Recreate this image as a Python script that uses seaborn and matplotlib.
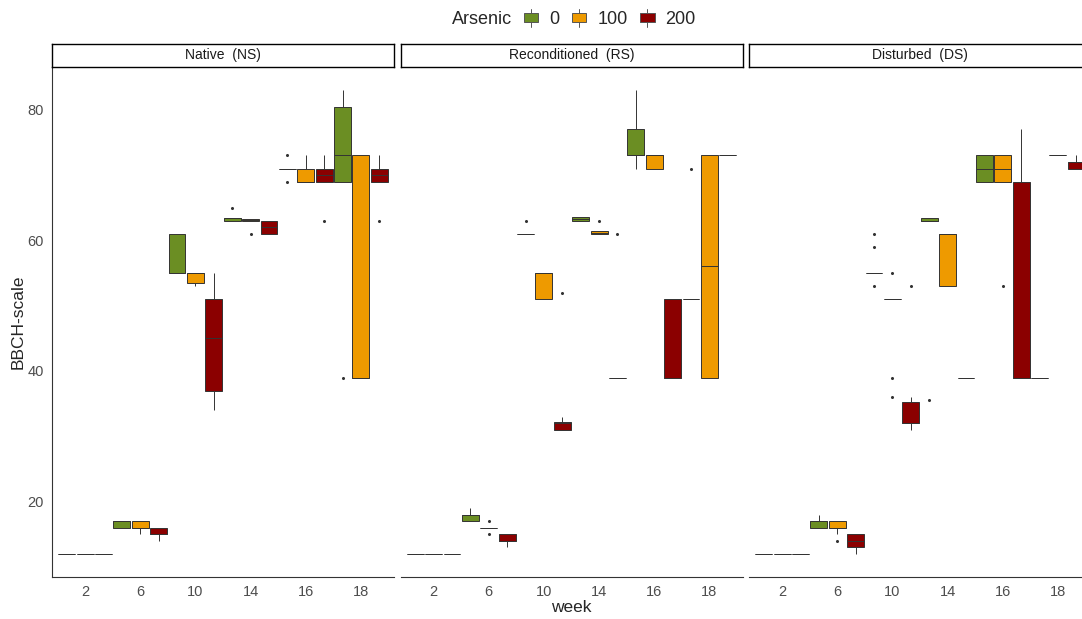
import matplotlib.pyplot as plt
import pandas as pd
import seaborn as sns
from matplotlib.legend_handler import HandlerBase
from matplotlib.lines import Line2D
from matplotlib.patches import Patch, Rectangle

weeks = ["2", "6", "10", "14", "16", "18"]
arsenic = ["0", "100", "200"]
sites = ["Native  (NS)", "Reconditioned  (RS)", "Disturbed  (DS)"]
colors = ["#6B8E23", "#EE9A00", "#8B0000"]

# BBCH observations, one inner list per week (2, 6, 10, 14, 16, 18)
ns_0 = [[12] * 5, [16, 16, 17, 17, 17], [55, 55, 55, 61, 61],
        [63, 63, 63.5, 63.5, 65], [69, 71, 71, 71, 73], [39, 69, 73, 80.5, 83]]
ns_100 = [[12] * 5, [15, 16, 16, 17, 17], [53, 53.5, 55, 55, 55],
          [61, 63, 63.1, 63.3, 63.3], [69, 69, 69, 71, 73], [39, 39, 39, 73, 73]]
ns_200 = [[12] * 5, [14, 15, 15, 16, 16], [34, 37, 45, 51, 55],
          [61, 61, 62, 63, 63], [63, 69, 70, 71, 73], [63, 69, 70, 71, 73]]

rs_0 = [[12] * 5, [17, 17, 18, 18, 19], [61, 61, 61, 61, 63],
        [63, 63, 63.3, 63.6, 63.6], [71, 73, 73, 77, 83], [51, 51, 51, 51, 71]]
rs_100 = [[12] * 5, [15, 16, 16, 16, 17], [51, 51, 55, 55, 55],
          [61, 61, 61.2, 61.4, 63], [71, 71, 73, 73, 73], [39, 39, 56, 73, 73]]
rs_200 = [[12] * 5, [13, 14, 14, 15, 15], [31, 31, 31, 32, 32, 32, 33, 52],
          [39, 39, 39, 39, 61], [39, 39, 39, 51, 51], [73] * 5]

ds_0 = [[12] * 5, [16, 16, 17, 17, 18], [53, 55, 55, 55, 55, 55, 55, 59, 61],
        [35.5, 63, 63, 63.4, 63.4], [69, 69, 71, 73, 73], [39] * 5]
ds_100 = [[12] * 5, [14, 15, 16, 16, 16, 17, 17, 17, 17], [36, 39, 51, 51, 51, 51, 51, 51, 55],
          [53, 53, 61, 61, 61], [53, 69, 69, 71, 73, 73, 73], [73] * 5]
ds_200 = [[12] * 5, [12, 13, 14, 15, 15], [31, 32, 32, 32, 32, 35, 36, 53],
          [39] * 5, [39, 39, 39, 69, 77], [71, 71, 72, 72, 73]]

site_data = [[ns_0, ns_100, ns_200], [rs_0, rs_100, rs_200], [ds_0, ds_100, ds_200]]

rows = []
for site, groups in zip(sites, site_data):
    for level, per_week in zip(arsenic, groups):
        for week, values in zip(weeks, per_week):
            for v in values:
                rows.append({"site": site, "week": week, "Arsenic": level, "BBCH": v})
df = pd.DataFrame(rows)


class BoxKey(HandlerBase):
    # ggplot-like legend key: small box with a whisker through it
    def create_artists(self, legend, orig_handle, xdescent, ydescent, width, height, fontsize, trans):
        x0, y0 = -xdescent, -ydescent
        whisker = Line2D([x0 + width / 2] * 2, [y0 - 0.1 * height, y0 + 1.1 * height],
                         color="#555555", linewidth=0.7, transform=trans)
        box = Rectangle((x0, y0 + 0.2 * height), width, 0.6 * height,
                        facecolor=orig_handle.get_facecolor(), edgecolor="#555555",
                        linewidth=0.7, transform=trans)
        return [whisker, box]


sns.set_style("white")
plt.rcParams["font.family"] = ["Liberation Sans", "DejaVu Sans"]

fig = plt.figure(figsize=(10.82, 6.19), dpi=100)
W, H = 1082, 619
lefts = [52, 400.5, 749]
pw = 342
top, bottom = 67, 577

for i, site in enumerate(sites):
    ax = fig.add_axes([lefts[i] / W, 1 - bottom / H, pw / W, (bottom - top) / H])
    sns.boxplot(
        data=df[df["site"] == site], x="week", y="BBCH", hue="Arsenic",
        order=weeks, hue_order=arsenic, palette=colors, saturation=1,
        width=1.0, gap=0.08, linecolor="#333333", linewidth=0.7,
        fliersize=1.2,
        flierprops=dict(marker="o", markerfacecolor="#333333", markeredgecolor="#333333"),
        capprops=dict(linewidth=0),
        legend=False, ax=ax,
    )
    ax.set_xlim(-0.6, 5.6)
    ax.set_ylim(8.45, 86.55)
    ax.set_yticks([20, 40, 60, 80])
    ax.set_xlabel("")
    sns.despine(ax=ax, left=(i > 0))
    for sp in ax.spines.values():
        sp.set_color("#333333")
        sp.set_linewidth(0.8)
    ax.tick_params(axis="both", direction="out", length=4, width=0.7, color="#333333",
                   labelsize=10.5, labelcolor="#4d4d4d", pad=2)
    if i == 0:
        ax.set_ylabel("BBCH-scale", fontsize=12.5, labelpad=1)
    else:
        ax.set_ylabel("")
        ax.tick_params(axis="y", left=False, labelleft=False)

    # facet strip
    sax = fig.add_axes([lefts[i] / W, 1 - top / H, pw / W, 23 / H])
    sax.set_xticks([])
    sax.set_yticks([])
    for sp in sax.spines.values():
        sp.set_color("black")
        sp.set_linewidth(1.0)
    sax.text(0.5, 0.5, site, ha="center", va="center", fontsize=10, color="#1a1a1a",
             transform=sax.transAxes)

fig.text(571.5 / W, 1 - 607 / H, "week", ha="center", va="center", fontsize=12.5)

fig.text(452 / W, 1 - 19 / H, "Arsenic", ha="left", va="center", fontsize=13)
handles = [Patch(facecolor=c) for c in colors]
fig.legend(handles, arsenic, loc="center left", bbox_to_anchor=(524 / W, 1 - 19 / H),
           ncol=3, frameon=False, handlelength=0.8, handleheight=0.9,
           handletextpad=0.6, columnspacing=0.7, fontsize=13, borderaxespad=0,
           borderpad=0, handler_map={Patch: BoxKey()})

fig.savefig("out.png", dpi=100)
